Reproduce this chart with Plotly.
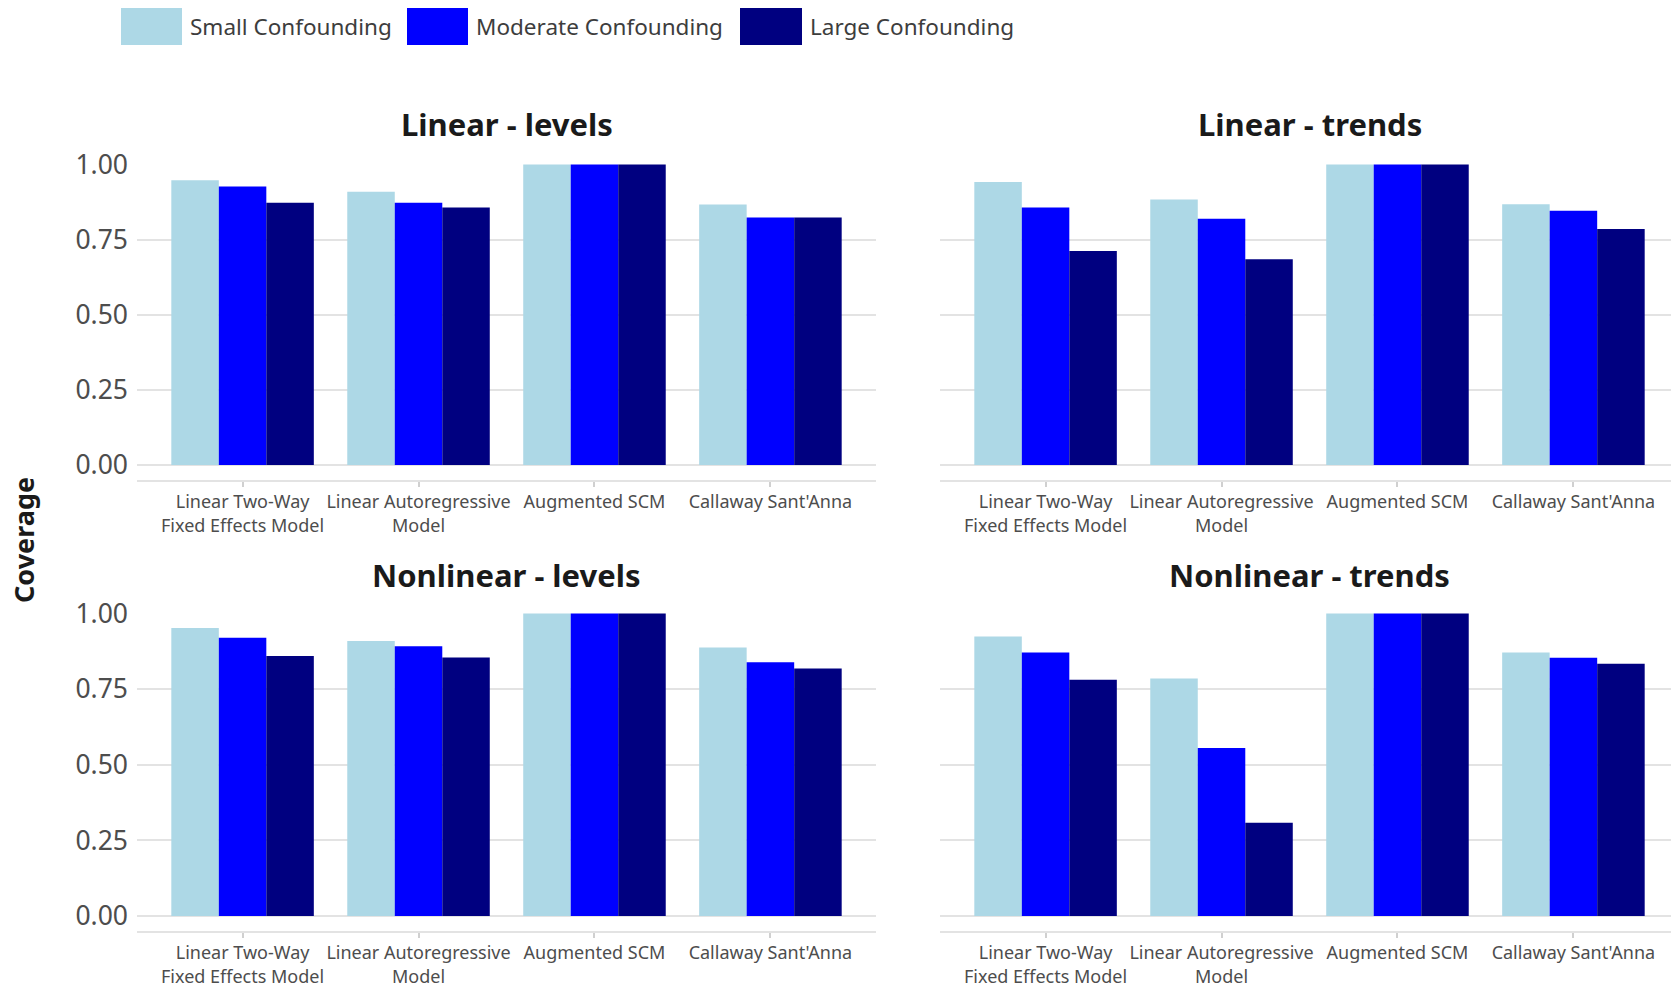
import plotly.graph_objects as go

# page offset from the default 8px body margin
OFF = 8
W, H = 1679 - OFF, 985 - OFF

methods = ["Linear Two-Way<br>Fixed Effects Model", "Linear Autoregressive<br>Model",
           "Augmented SCM", "Callaway Sant'Anna"]
series_names = ["Small Confounding", "Moderate Confounding", "Large Confounding"]
colors = ["#ADD8E6", "#0000FF", "#000080"]
panel_titles = ["Linear - levels", "Linear - trends", "Nonlinear - levels", "Nonlinear - trends"]

# values per panel: [small, moderate, large] each over the 4 methods
lin_levels_small = [0.948, 0.910, 1.0, 0.867]
lin_levels_mod = [0.927, 0.873, 1.0, 0.824]
lin_levels_large = [0.873, 0.857, 1.0, 0.824]

lin_trends_small = [0.942, 0.884, 1.0, 0.868]
lin_trends_mod = [0.857, 0.820, 1.0, 0.846]
lin_trends_large = [0.712, 0.685, 1.0, 0.786]

nl_levels_small = [0.952, 0.909, 1.0, 0.888]
nl_levels_mod = [0.920, 0.892, 1.0, 0.839]
nl_levels_large = [0.860, 0.855, 1.0, 0.818]

nl_trends_small = [0.924, 0.785, 1.0, 0.871]
nl_trends_mod = [0.871, 0.555, 1.0, 0.854]
nl_trends_large = [0.781, 0.308, 1.0, 0.834]

y_ticks = [0, 0.25, 0.5, 0.75, 1.0]
y_tick_text = ["0.00", "0.25", "0.50", "0.75", "1.00"]

panels = [
    (lin_levels_small, lin_levels_mod, lin_levels_large),
    (lin_trends_small, lin_trends_mod, lin_trends_large),
    (nl_levels_small, nl_levels_mod, nl_levels_large),
    (nl_trends_small, nl_trends_mod, nl_trends_large),
]

FONT = "Noto Sans"

def px_x(p):
    return (p - OFF) / W

def px_y(p):
    return 1 - (p - OFF) / H

xdoms = [[px_x(137), px_x(876)], [px_x(940), 1.0]]
ydoms = [[px_y(480), px_y(164)], [px_y(931), px_y(613)]]

fig = go.Figure()
for i, vals in enumerate(panels):
    r, c = divmod(i, 2)
    idx = "" if i == 0 else str(i + 1)
    for s, (name, col) in enumerate(zip(series_names, colors)):
        fig.add_trace(go.Bar(
            x=methods, y=vals[s], name=name, marker=dict(color=col, line=dict(width=0)),
            xaxis="x" + idx, yaxis="y" + idx, showlegend=False, offsetgroup=str(s),
        ))
    xa = dict(domain=xdoms[c], anchor="y" + idx, type="category", automargin=False,
              categoryorder="array", categoryarray=methods, range=[-0.6, 3.6],
              showgrid=False, showline=True, linecolor="#e3e3e3", linewidth=1.5,
              ticks="outside", ticklen=5, tickcolor="#d0d0d0", tickwidth=1.5,
              tickfont=dict(family=FONT, size=18, color="#4d4d4d"), zeroline=False)
    ya = dict(domain=ydoms[r], anchor="x" + idx, range=[-0.05, 1.002], automargin=False,
              tickvals=y_ticks, ticktext=y_tick_text, showgrid=True,
              gridcolor="#e3e3e3", gridwidth=1.5, zeroline=False, showline=False,
              ticks="", showticklabels=(c == 0), ticklabelstandoff=8,
              tickfont=dict(family=FONT, size=26.5, color="#4d4d4d"))
    fig.update_layout(**{"xaxis" + idx: xa, "yaxis" + idx: ya})

annotations = []
title_pos = [(506.5, 124), (1309.5, 124), (506.5, 575), (1309.5, 575)]
for t, (x, y) in zip(panel_titles, title_pos):
    annotations.append(dict(text="<b>" + t + "</b>", x=px_x(x), y=px_y(y), xref="paper", yref="paper",
                            showarrow=False, xanchor="center", yanchor="middle",
                            font=dict(family=FONT, size=31, color="#1a1a1a")))
annotations.append(dict(text="<b>Coverage</b>", x=px_x(23), y=px_y(540), xref="paper", yref="paper",
                        showarrow=False, textangle=-90, xanchor="center", yanchor="middle",
                        font=dict(family=FONT, size=27, color="#1a1a1a")))

shapes = []
legend_boxes = [(121, 182), (407, 468), (740, 802)]
for (x0, x1), name, col in zip(legend_boxes, series_names, colors):
    shapes.append(dict(type="rect", xref="paper", yref="paper", x0=px_x(x0), x1=px_x(x1),
                       y0=px_y(45), y1=px_y(7), fillcolor=col, line=dict(width=0)))
    annotations.append(dict(text=name, x=px_x(x1 + 6), y=px_y(27), xref="paper", yref="paper",
                            showarrow=False, xanchor="left", yanchor="middle",
                            font=dict(family=FONT, size=22.5, color="#3d3d3d")))

fig.update_layout(
    template="none",
    width=W, height=H, autosize=False,
    margin=dict(l=0, r=0, t=0, b=0, pad=0, autoexpand=False),
    paper_bgcolor="white", plot_bgcolor="white",
    barmode="group", bargap=0.19, bargroupgap=0,
    showlegend=False,
    annotations=annotations, shapes=shapes,
    font=dict(family=FONT),
)

fig.write_html("out.html")
